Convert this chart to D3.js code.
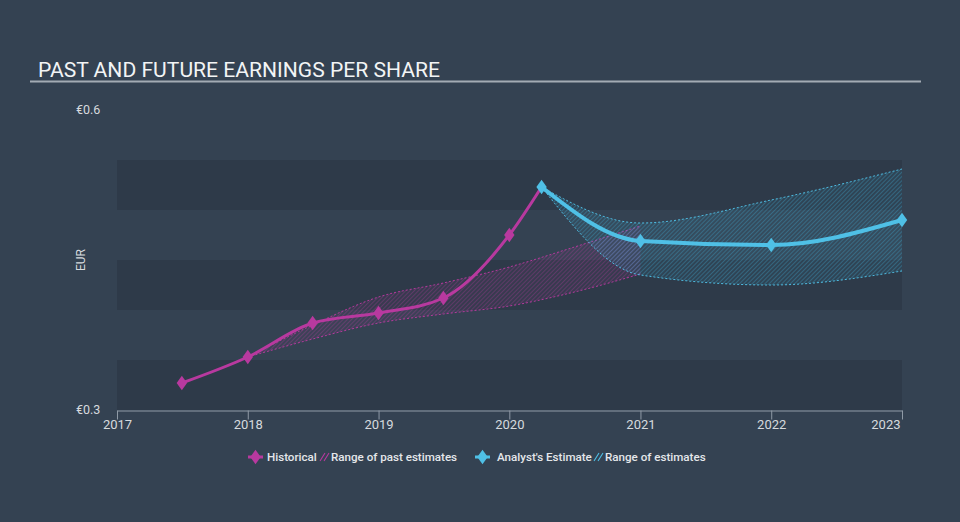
<!DOCTYPE html>
<html>
<head>
<meta charset="utf-8">
<script src="https://cdn.jsdelivr.net/npm/d3@7/dist/d3.min.js"></script>
<style>
  html, body { margin: 0; padding: 0; background: #344252; }
  svg { display: block; font-family: Roboto, "Noto Sans", sans-serif; }
</style>
</head>
<body>
<svg id="chart" width="960" height="522"></svg>
<script>
// ---- data ----
const title = "PAST AND FUTURE EARNINGS PER SHARE";
const yLabel = "EUR";
const yTickValues = [0.3, 0.6];
const yTickLabels = ["€0.3", "€0.6"];
const xTickYears = [2017, 2018, 2019, 2020, 2021, 2022, 2023];

const histDates = ["2017-07-01", "2018-01-01", "2018-07-01", "2019-01-01", "2019-07-01", "2020-01-01", "2020-03-31"];
const histValues = [0.327, 0.353, 0.387, 0.397, 0.412, 0.475, 0.523];

const pastRangeDates = ["2018-01-01", "2018-07-01", "2019-01-01", "2019-07-01", "2020-01-01", "2020-07-01", "2021-01-01"];
const pastRangeLow = [0.353, 0.371, 0.387, 0.396, 0.404, 0.418, 0.436];
const pastRangeHigh = [0.353, 0.385, 0.413, 0.427, 0.443, 0.463, 0.484];

const estDates = ["2020-03-31", "2021-01-01", "2022-01-01", "2023-01-01"];
const estValues = [0.523, 0.469, 0.465, 0.490];
const estLow = [0.523, 0.435, 0.425, 0.439];
const estHigh = [0.523, 0.487, 0.510, 0.541];

const legendItems = ["Historical", "Range of past estimates", "Analyst's Estimate", "Range of estimates"];

// ---- setup ----
const parse = d3.utcParse("%Y-%m-%d");
const svg = d3.select("#chart");
const W = 960, H = 522;
const m = { left: 117, right: 902, top: 110, bottom: 410 };

const x = d3.scaleUtc()
  .domain([new Date(Date.UTC(2017, 0, 1)), new Date(Date.UTC(2023, 0, 1))])
  .range([m.left, m.right]);
const y = d3.scaleLinear().domain([0.3, 0.6]).range([m.bottom, m.top]);

const C_BG = "#344252", C_BAND = "#2e3a49";
const C_HIST = "#b8399f", C_EST = "#4fc0e6";
const C_TEXT = "#d6dade";

svg.append("rect").attr("width", W).attr("height", H).attr("fill", C_BG);

// patterns
const defs = svg.append("defs");
function hatch(id, color, op, bgOp) {
  const p = defs.append("pattern").attr("id", id).attr("patternUnits", "userSpaceOnUse")
    .attr("width", 3).attr("height", 3).attr("patternTransform", "rotate(45)");
  p.append("rect").attr("width", 3).attr("height", 3).attr("fill", color).attr("opacity", bgOp);
  p.append("line").attr("x1", 0).attr("y1", 0).attr("x2", 0).attr("y2", 3)
    .attr("stroke", color).attr("stroke-width", 1).attr("opacity", op);
}
hatch("hatchPast", C_HIST, 0.6, 0.07);
hatch("hatchEst", "#3fb6e0", 0.6, 0.08);

// bands
const bandEdges = d3.range(0.3, 0.6001, 0.05);
for (let i = 0; i < bandEdges.length - 1; i++) {
  if (i % 2 === 0) {
    svg.append("rect")
      .attr("x", m.left).attr("width", m.right - m.left)
      .attr("y", y(bandEdges[i + 1])).attr("height", y(bandEdges[i]) - y(bandEdges[i + 1]))
      .attr("fill", C_BAND);
  }
}

// title
svg.append("text").attr("x", 38).attr("y", 77).attr("fill", "#f2f4f5")
  .attr("font-size", 21.1).text(title);
svg.append("line").attr("x1", 30).attr("x2", 921).attr("y1", 81.5).attr("y2", 81.5)
  .attr("stroke", "#a3abb4").attr("stroke-width", 2);

// y labels
yTickValues.forEach((v, i) => {
  svg.append("text").attr("x", 76).attr("y", y(v) + 4).attr("fill", C_TEXT)
    .attr("font-size", 12.5).text(yTickLabels[i]);
});
svg.append("text").attr("transform", `translate(85,${(m.top + m.bottom) / 2}) rotate(-90)`)
  .attr("text-anchor", "middle").attr("fill", C_TEXT).attr("font-size", 12).text(yLabel);

// x axis
const xAxis = d3.axisBottom(x)
  .tickValues(xTickYears.map(yr => new Date(Date.UTC(yr, 0, 1))))
  .tickFormat(d3.utcFormat("%Y")).tickSize(9).tickSizeOuter(0);
const gx = svg.append("g").attr("transform", `translate(0,${m.bottom + 0.5})`).call(xAxis);
gx.select(".domain").attr("stroke", "#8f9aa6");
gx.selectAll(".tick line").attr("stroke", "#8f9aa6");
gx.selectAll(".tick text").attr("fill", C_TEXT).attr("font-size", 13).attr("y", 9).attr("dy", "0.71em")
  .attr("font-family", "Roboto, sans-serif");
gx.selectAll(".tick:last-of-type text").attr("text-anchor", "end").attr("dx", -2);

// ranges
const pastData = pastRangeDates.map((d, i) => ({ d: parse(d), lo: pastRangeLow[i], hi: pastRangeHigh[i] }));
const estRange = estDates.map((d, i) => ({ d: parse(d), lo: estLow[i], hi: estHigh[i] }));
const curve = d3.curveMonotoneX;
const area = d3.area().x(p => x(p.d)).y0(p => y(p.lo)).y1(p => y(p.hi)).curve(curve);
const lineLo = d3.line().x(p => x(p.d)).y(p => y(p.lo)).curve(curve);
const lineHi = d3.line().x(p => x(p.d)).y(p => y(p.hi)).curve(curve);

function drawRange(data, fillId, color) {
  svg.append("path").datum(data).attr("d", area).attr("fill", `url(#${fillId})`);
  [lineLo, lineHi].forEach(l => svg.append("path").datum(data).attr("d", l)
    .attr("fill", "none").attr("stroke", color).attr("stroke-width", 1)
    .attr("stroke-dasharray", "2,2").attr("opacity", 0.95));
}
drawRange(pastData, "hatchPast", C_HIST);
drawRange(estRange, "hatchEst", C_EST);

// lines
const histData = histDates.map((d, i) => ({ d: parse(d), v: histValues[i] }));
const estData = estDates.map((d, i) => ({ d: parse(d), v: estValues[i] }));
const line = d3.line().x(p => x(p.d)).y(p => y(p.v)).curve(curve);
svg.append("path").datum(histData).attr("d", line).attr("fill", "none")
  .attr("stroke", C_HIST).attr("stroke-width", 3);
svg.append("path").datum(estData).attr("d", line).attr("fill", "none")
  .attr("stroke", C_EST).attr("stroke-width", 4);

const diamond = d3.symbol().type(d3.symbolDiamond).size(60);
function markers(data, color) {
  svg.append("g").selectAll("path").data(data).join("path")
    .attr("transform", p => `translate(${x(p.d)},${y(p.v)}) scale(1.25,1)`)
    .attr("d", diamond).attr("fill", color);
}
markers(histData.slice(0, -1), C_HIST);
markers(estData, C_EST);

// legend
const ly = 457;
const lg = svg.append("g").attr("font-size", 11.6).attr("font-weight", 500).attr("fill", "#e4e7ea");
function legMarker(x0, color) {
  lg.append("line").attr("x1", x0).attr("x2", x0 + 15).attr("y1", ly).attr("y2", ly)
    .attr("stroke", color).attr("stroke-width", 3);
  lg.append("path").attr("transform", `translate(${x0 + 7.5},${ly}) scale(1.25,1)`)
    .attr("d", diamond).attr("fill", color);
}
function legHatch(x0, color) {
  for (let k = 0; k < 2; k++) {
    lg.append("line").attr("x1", x0 + k * 4).attr("y1", ly + 4).attr("x2", x0 + 5 + k * 4).attr("y2", ly - 4)
      .attr("stroke", color).attr("stroke-width", 1.1);
  }
}
legMarker(248, C_HIST);
lg.append("text").attr("x", 267).attr("y", ly + 4).text(legendItems[0]);
legHatch(320, C_HIST);
lg.append("text").attr("x", 331).attr("y", ly + 4).text(legendItems[1]);
legMarker(475, C_EST);
lg.append("text").attr("x", 497).attr("y", ly + 4).text(legendItems[2]);
legHatch(594, C_EST);
lg.append("text").attr("x", 605).attr("y", ly + 4).text(legendItems[3]);
</script>
</body>
</html>
